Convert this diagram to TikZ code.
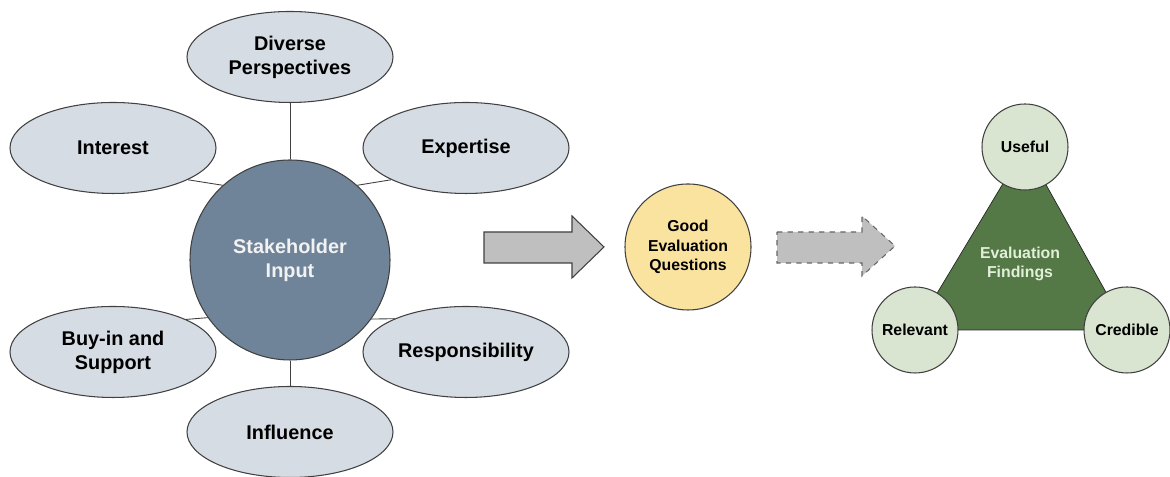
\documentclass[tikz,border=0pt]{standalone}
\usepackage{fontspec}
\setmainfont{Liberation Sans}
\usetikzlibrary{shapes.geometric,backgrounds}
\definecolor{ellfill}{RGB}{214,220,228}
\definecolor{stakefill}{RGB}{111,132,153}
\definecolor{goodfill}{RGB}{250,226,159}
\definecolor{trifill}{RGB}{84,121,71}
\definecolor{smallfill}{RGB}{217,229,208}
\definecolor{arrowfill}{RGB}{191,191,191}
\definecolor{edgegray}{RGB}{64,64,64}
\definecolor{findtext}{RGB}{226,239,217}
\begin{document}
\begin{tikzpicture}[line width=0.6pt,
	bigfont/.style={font=\fontsize{11.3}{13.6}\selectfont\bfseries},
	smallfont/.style={font=\fontsize{9}{11}\selectfont\bfseries},
	factor/.style={ellipse, draw=edgegray, fill=ellfill, minimum width=4.12cm, minimum height=1.82cm, align=center, bigfont, inner sep=0pt},
	quality/.style={circle, draw=edgegray, fill=smallfill, minimum size=1.72cm, inner sep=0pt, smallfont},
	spoke/.style={draw=black!75, line width=0.5pt},
	blockarrow/.style={draw=edgegray, fill=arrowfill}]
	\useasboundingbox (0,0) rectangle (23.4,9.54);
	% stakeholder wheel
	\node (SI) at ( 5.80, 4.34)	[circle, draw=edgegray, fill=stakefill, minimum size=4cm, align=center, bigfont, text=white!95!black]	{Stakeholder\\Input};
	\node (DP) at ( 5.80, 8.40)	[factor]	{Diverse\\Perspectives};
	\node (IN) at ( 2.26, 6.58)	[factor]	{Interest};
	\node (EX) at ( 9.32, 6.58)	[factor]	{Expertise};
	\node (BS) at ( 2.26, 2.50)	[factor]	{Buy-in and\\Support};
	\node (RE) at ( 9.32, 2.50)	[factor]	{Responsibility};
	\node (IF) at ( 5.80, 0.90)	[factor]	{Influence};
	\draw[spoke] (SI) -- (DP);
	\draw[spoke] (SI.132) -- (IN.-23);
	\draw[spoke] (SI.48) -- (EX.203);
	\draw[spoke] (SI.215) -- (BS.24);
	\draw[spoke] (SI.-36) -- (RE.155);
	\draw[spoke] (SI) -- (IF);
	% questions
	\node (GQ) at (13.76, 4.60)	[circle, draw=edgegray, fill=goodfill, minimum size=2.52cm, align=center, smallfont, inner sep=0pt]	{Good\\Evaluation\\Questions};
	\draw[blockarrow] (9.68,4.90) -- (11.44,4.90) -- (11.44,5.22) -- (12.08,4.60) -- (11.44,3.98) -- (11.44,4.28) -- (9.68,4.28) -- cycle;
	\draw[blockarrow, dashed, draw=edgegray!80] (15.54,4.90) -- (17.24,4.90) -- (17.24,5.22) -- (17.90,4.62) -- (17.24,4.02) -- (17.24,4.28) -- (15.54,4.28) -- cycle;
	% findings
	\node (US) at (20.50, 6.60)	[quality]	{Useful};
	\node (RV) at (18.30, 2.94)	[quality]	{Relevant};
	\node (CR) at (22.54, 2.94)	[quality]	{Credible};
	\begin{scope}[on background layer]
		\draw[fill=trifill, draw=black!85] (US.center) -- (RV.center) -- (CR.center) -- cycle;
	\end{scope}
	\node (EF) at (20.40, 4.26)	[align=center, smallfont, text=findtext]	{Evaluation\\Findings};
\end{tikzpicture}
\end{document}
